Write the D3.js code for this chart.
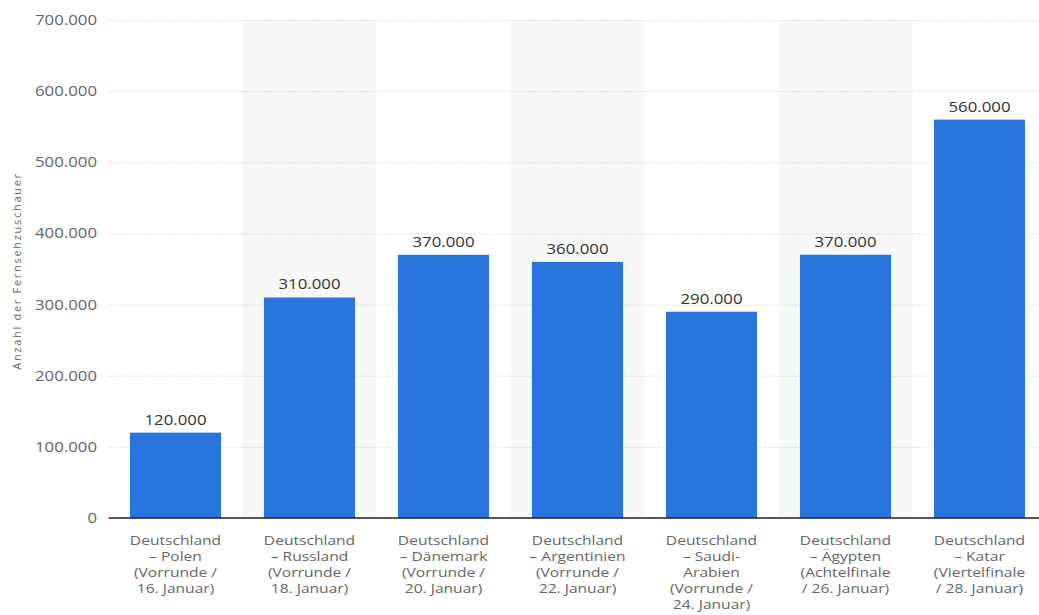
<!DOCTYPE html>
<html><head><meta charset="utf-8">
<script src="https://cdn.jsdelivr.net/npm/d3@7"></script>
<style>body{margin:0;background:#fff;} text{font-family:"Open Sans",sans-serif;}</style>
</head><body><svg id="c" width="1039" height="615"></svg>
<script>
const categories = [
  ["Deutschland","– Polen","(Vorrunde /","16. Januar)"],
  ["Deutschland","– Russland","(Vorrunde /","18. Januar)"],
  ["Deutschland","– Dänemark","(Vorrunde /","20. Januar)"],
  ["Deutschland","– Argentinien","(Vorrunde /","22. Januar)"],
  ["Deutschland","– Saudi-","Arabien","(Vorrunde /","24. Januar)"],
  ["Deutschland","– Ägypten","(Achtelfinale","/ 26. Januar)"],
  ["Deutschland","– Katar","(Viertelfinale","/ 28. Januar)"]
];
const values = [120000, 310000, 370000, 360000, 290000, 370000, 560000];
const yTicks = [0, 100000, 200000, 300000, 400000, 500000, 600000, 700000];
const yTitle = "Anzahl der Fernsehzuschauer";

(function () {
const svg = d3.select("#c");
const L = 108.5, R = 1046.5, T = 20, B = 518;
const SX = 1.2;
const idx = d3.range(values.length);
const band = d3.scaleBand().domain(idx).range([L, R]).padding(0);
const x = d3.scaleBand().domain(idx).range([L, R]).paddingInner(0.32).paddingOuter(0.16);
const y = d3.scaleLinear().domain([0, 700000]).range([B, T]);
const fmt = v => v === 0 ? "0" : d3.format(",")(v).replace(/,/g, ".");

svg.append("g").selectAll("rect").data(idx.filter(i => i % 2 === 1)).join("rect")
  .attr("x", i => band(i)).attr("y", T).attr("width", band.bandwidth()).attr("height", B - T)
  .attr("fill", "#f8f8f8");

const yAxis = d3.axisLeft(y).tickValues(yTicks).tickFormat(fmt).tickSize(-(1040 - L)).tickPadding(12);
const gy = svg.append("g").attr("transform", `translate(${L},0)`).call(yAxis);
gy.select(".domain").remove();
gy.selectAll(".tick line").attr("stroke", "#c8c8c8").attr("stroke-dasharray", "1,2").attr("stroke-width", 1);
gy.selectAll(".tick text").attr("fill", "#666").style("font-size", "14px")
  .attr("x", -11.5 / SX).attr("transform", `scale(${SX},1)`);

svg.append("g").selectAll("rect").data(idx).join("rect")
  .attr("x", i => x(i)).attr("y", i => y(values[i])).attr("width", x.bandwidth())
  .attr("height", i => B - y(values[i])).attr("fill", "#2876dd");

svg.append("g").selectAll("text").data(idx).join("text")
  .attr("transform", i => `translate(${x(i) + x.bandwidth() / 2},${y(values[i]) - 8}) scale(${SX},1)`)
  .attr("text-anchor", "middle").attr("fill", "#333").style("font-size", "14px")
  .text(i => fmt(values[i]));

const xAxis = d3.axisBottom(band).tickSize(0).tickFormat("");
const gx = svg.append("g").attr("transform", `translate(0,${B})`).call(xAxis);
gx.select(".domain").attr("d", `M${L},0H1040`).attr("stroke", "#222").attr("stroke-width", 1.5);
const lbl = svg.append("g").selectAll("text").data(idx).join("text")
  .attr("text-anchor", "middle").attr("fill", "#666").style("font-size", "13px")
  .attr("transform", i => `translate(${x(i) + x.bandwidth() / 2},${B + 27}) scale(${SX},1)`);
lbl.selectAll("tspan").data(i => categories[i]).join("tspan")
  .attr("x", 0).attr("dy", (d, j) => j === 0 ? 0 : 16).text(d => d);

svg.append("text").attr("transform", "translate(21,271) rotate(-90)")
  .attr("text-anchor", "middle").attr("fill", "#666").style("font-size", "11px")
  .style("letter-spacing", "1.7px").text(yTitle);
})();
</script></body></html>
